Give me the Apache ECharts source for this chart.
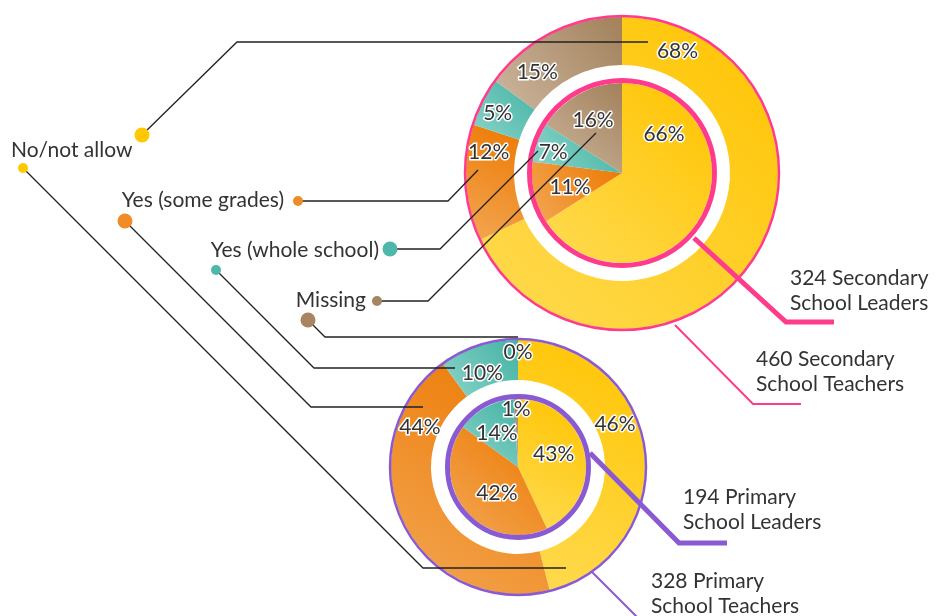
<!DOCTYPE html>
<html>
<head>
<meta charset="utf-8">
<script src="https://cdn.jsdelivr.net/npm/echarts@6/dist/echarts.min.js"></script>
<style>
  html, body { margin: 0; background: #fff; }
  #chart { width: 938px; height: 616px; }
</style>
</head>
<body>
<div id="chart"></div>
<script>
// categories and values (percent)
var categories = ['No/not allow', 'Yes (some grades)', 'Yes (whole school)', 'Missing']
var secTeachers = [68, 12, 5, 15]
var secLeaders = [66, 11, 7, 16]
var priTeachers = [46, 44, 10, 0]
var priLeaders = [43, 42, 14, 1]
var groupNames = ['460 Secondary\nSchool Teachers', '324 Secondary\nSchool Leaders', '328 Primary\nSchool Teachers', '194 Primary\nSchool Leaders']

var FONT = 'Lato, "Noto Sans", sans-serif'
var TXT = '#333333'
var PINK = '#FF3C8C'
var PURPLE = '#8A5AD2'
var LINE = '#222222'
// dark (top right) -> light (bottom left)
var catColors = [['#FFC400', '#FFDB52'], ['#EC7800', '#F3A653'], ['#42B3A3', '#8CD4CA'], ['#A2815B', '#CDB69E']]
var dotColors = ['#FFC800', '#F08C28', '#4DB8A9', '#A68560']

var SEC = [622, 173]
var PRI = [518, 467]

function grad (i) {
  return new echarts.graphic.LinearGradient(1, 0, 0, 1, [
    { offset: 0, color: catColors[i][0] },
    { offset: 1, color: catColors[i][1] }
  ])
}

// put each label at a chosen spot inside its slice
function placeLabels (values, center, rads, fracs) {
  var total = values.reduce(function (a, b) { return a + b }, 0)
  var starts = []
  var acc = 0
  values.forEach(function (v) { starts.push(acc); acc += v })
  return function (p) {
    var i = p.dataIndex
    var a = (starts[i] + values[i] * fracs[i]) / total * Math.PI * 2
    return { x: center[0] + rads[i] * Math.sin(a), y: center[1] - rads[i] * Math.cos(a) }
  }
}

function donut (name, values, center, radius, rads, fracs) {
  return {
    name: name,
    type: 'pie',
    center: center,
    radius: radius,
    startAngle: 90,
    clockwise: true,
    silent: true,
    animation: false,
    z: 2,
    label: {
      show: true,
      position: 'inside',
      formatter: '{c}%',
      fontFamily: FONT,
      fontSize: 21,
      color: TXT,
      textBorderColor: '#fff',
      textBorderWidth: 3
    },
    labelLine: { show: false },
    labelLayout: placeLabels(values, center, rads, fracs),
    data: values.map(function (v, i) {
      return { name: categories[i], value: v, itemStyle: { color: grad(i) } }
    })
  }
}

var myChart = echarts.init(document.getElementById('chart'))

var graphics = []
// donut outlines
function ring (c, r, color, w) {
  graphics.push({ type: 'circle', z: 50, silent: true, shape: { cx: c[0], cy: c[1], r: r }, style: { fill: 'none', stroke: color, lineWidth: w } })
}
ring(SEC, 157, PINK, 2.5)
ring(SEC, 92.5, PINK, 5)
ring(PRI, 128, PURPLE, 2.5)
ring(PRI, 70.5, PURPLE, 5)

function poly (pts, color, w) {
  graphics.push({ type: 'polyline', z: 60, silent: true, shape: { points: pts }, style: { fill: 'none', stroke: color, lineWidth: w } })
}
// group callouts
poly([[675, 325], [753, 404], [801, 404]], PINK, 2)
poly([[694, 238], [786, 322], [834, 322]], PINK, 5)
poly([[592, 572], [640, 620]], PURPLE, 2)
poly([[590, 453], [679, 543], [727, 543]], PURPLE, 5)

function label (x, y, t, align) {
  graphics.push({ type: 'text', z: 70, silent: true, x: x, y: y, style: { text: t, fill: TXT, font: '21px ' + FONT, align: align || 'left', verticalAlign: 'middle', lineHeight: 25 } })
}
label(756, 372, groupNames[0])
label(790, 291, groupNames[1])
label(651, 594, groupNames[2])
label(683, 510, groupNames[3])

// legend leaders: [dot, ..., end]
var leaders = [
  { c: 0, big: true, pts: [[142, 135], [237, 42], [648, 42]] },
  { c: 0, big: false, pts: [[23, 168], [423, 568], [566, 568]] },
  { c: 1, big: false, pts: [[298, 201], [448, 201], [478, 170]] },
  { c: 1, big: true, pts: [[125, 221], [311, 407], [423, 407]] },
  { c: 2, big: true, pts: [[390, 249], [440, 249], [538, 151]] },
  { c: 2, big: false, pts: [[216, 270], [314, 368], [455, 368]] },
  { c: 3, big: false, pts: [[377, 301], [428, 301], [596, 133]] },
  { c: 3, big: true, pts: [[308, 320], [325, 337], [518, 337]] }
]
leaders.forEach(function (l) { poly(l.pts, LINE, 1.3) })
leaders.forEach(function (l) {
  graphics.push({ type: 'circle', z: 65, silent: true, shape: { cx: l.pts[0][0], cy: l.pts[0][1], r: l.big ? 7.5 : 5 }, style: { fill: dotColors[l.c] } })
})

label(11, 150, categories[0])
label(284, 200, categories[1], 'right')
label(379, 250, categories[2], 'right')
label(366, 300, categories[3], 'right')

myChart.setOption({
  backgroundColor: '#fff',
  animation: false,
  series: [
    donut('460 Secondary School Teachers', secTeachers, SEC, [108, 156], [134, 135, 138, 132], [0.1, 0.79, 0.43, 0.26]),
    donut('324 Secondary School Leaders', secLeaders, SEC, [0, 90], [57, 54, 72, 60], [0.2, 0.42, 0.39, 0.5]),
    donut('328 Primary School Teachers', priTeachers, PRI, [87, 127], [106, 106, 100, 115], [0.4, 0.8, 0.42, 0.5]),
    donut('194 Primary School Leaders', priLeaders, PRI, [0, 68], [38, 34, 40, 58], [0.45, 0.42, 0.44, 0.5])
  ],
  graphic: graphics
})
</script>
</body>
</html>
